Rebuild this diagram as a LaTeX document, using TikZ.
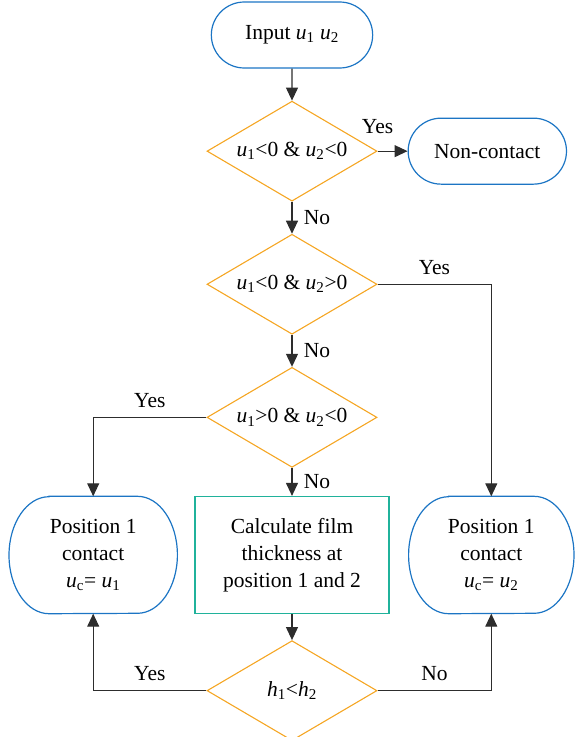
\documentclass[tikz,border=0pt]{standalone}
\usepackage{fontspec}
\setmainfont{Liberation Serif}
\usetikzlibrary{arrows.meta,positioning,shapes.geometric,shapes.misc}
\definecolor{termblue}{RGB}{28,117,196}
\definecolor{decorange}{RGB}{245,166,35}
\definecolor{procteal}{RGB}{32,178,155}
\definecolor{linegray}{RGB}{45,45,45}
\newcommand{\sv}[2]{\textit{#1}\textsubscript{#2}}
\tikzset{
  term/.style={draw=termblue, rounded rectangle, line width=1.2pt, minimum width=168pt, minimum height=66pt, align=center},
  posbox/.style={minimum width=168pt, minimum height=117pt, align=center},
  posline/.style={draw=termblue, line width=1.2pt},
  decision/.style={draw=decorange, diamond, aspect=1.7, line width=1.1pt, minimum width=170pt, minimum height=100pt, inner sep=0pt},
  proc/.style={draw=procteal, line width=1.2pt, minimum width=194pt, minimum height=117pt, align=center},
  arrow/.style={-{Triangle[length=13pt,width=12pt]}, line width=1.1pt, draw=linegray}
}

\begin{document}
\begin{tikzpicture}[x=1pt, y=1pt, font=\fontsize{21.5}{27}\selectfont, node distance=32pt and 30pt]
    \useasboundingbox (0,0) rectangle (574,-737);
    \node[term] (input) at (292,-35) {Input \sv{u}{1} \sv{u}{2}};
    \node[decision, below=of input] (d1) {\sv{u}{1}<0 \& \sv{u}{2}<0};
    \node[term, right=of d1, minimum width=165pt] (noncon) {Non-contact};
    \node[decision, below=of d1] (d2) {\sv{u}{1}<0 \& \sv{u}{2}>0};
    \node[decision, below=of d2] (d3) {\sv{u}{1}>0 \& \sv{u}{2}<0};
    \node[proc, below=28pt of d3] (calc) {Calculate film\\thickness at\\position 1 and 2};
    \node[posbox, left=17pt of calc] (pos1) {Position 1\\contact\\\sv{u}{c}= \sv{u}{1}};
    \node[posbox, right=19pt of calc, minimum width=165pt] (pos2) {Position 1\\contact\\\sv{u}{c}= \sv{u}{2}};
    \node[decision, below=26pt of calc] (d4) {\sv{h}{1}<\sv{h}{2}};

    % outlines of the two contact boxes
    \foreach \n in {pos1,pos2}
      \draw[posline] ([xshift=40pt]\n.north west) -- ([xshift=-40pt]\n.north east)
        arc[start angle=90, end angle=-90, x radius=40pt, y radius=58.5pt]
        -- ([xshift=40pt]\n.south west)
        arc[start angle=270, end angle=90, x radius=40pt, y radius=58.5pt] -- cycle;

    \draw[arrow] (input) -- (d1);
    \draw[arrow] (d1) -- node[at start, above=14pt]{Yes} (noncon);
    \draw[arrow] (d1) -- node[right=8pt]{No} (d2);
    \draw[arrow] (d2.east) -| node[pos=0.25, above=6pt]{Yes} (pos2.north);
    \draw[arrow] (d2) -- node[right=8pt]{No} (d3);
    \draw[arrow] (d3.west) -| node[pos=0.25, above=6pt]{Yes} (pos1.north);
    \draw[arrow] (d3) -- node[right=8pt]{No} (calc);
    \draw[arrow] (calc) -- (d4);
    \draw[arrow] (d4.west) -| node[pos=0.25, above=6pt]{Yes} (pos1.south);
    \draw[arrow] (d4.east) -| node[pos=0.25, above=6pt]{No} (pos2.south);
  \end{tikzpicture}
\end{document}
